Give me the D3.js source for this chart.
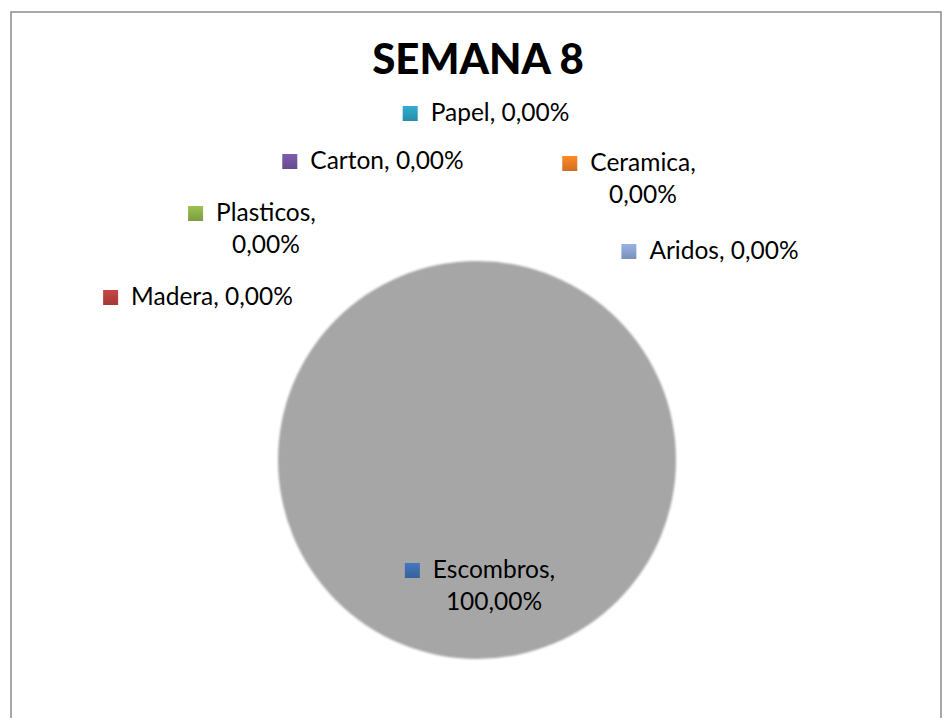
<!DOCTYPE html>
<html>
<head>
<meta charset="utf-8">
<script src="https://cdn.jsdelivr.net/npm/d3@7"></script>
<style>
  html, body { margin: 0; padding: 0; background: #fff; }
  svg { display: block; }
</style>
</head>
<body>
<svg id="chart" width="946" height="718"></svg>
<script>
// data
var categories = ['Escombros', 'Madera', 'Plasticos', 'Carton', 'Papel', 'Ceramica', 'Aridos'];
var values = [100, 0, 0, 0, 0, 0, 0];
var swatches = ['#3d6eb0', '#b8403c', '#8db14a', '#7454a0', '#2d9fbf', '#ec7d23', '#8aa4d2'];
var title = 'SEMANA 8';

// label layout (offset of the text centre / first baseline from pie centre)
var labelOffset = {
  Escombros: [17, 118],
  Madera: [-265, -155],
  Plasticos: [-211, -239],
  Carton: [-90, -291],
  Papel: [23, -339],
  Ceramica: [166, -289],
  Aridos: [247, -201]
};
var wrapped = ['Escombros', 'Plasticos', 'Ceramica'];

var W = 946, H = 718;
var cx = 477, cy = 460, radius = 199;
var font = 'Lato, "Open Sans", sans-serif';

var svg = d3.select('#chart');

var es = d3.formatLocale({decimal: ',', thousands: '.', grouping: [3], currency: ['', '€']});
var pct = es.format('.2%');
var total = d3.sum(values);

// frame
svg.append('rect')
  .attr('x', 11).attr('y', 12)
  .attr('width', 930).attr('height', H + 20)
  .attr('fill', '#fff')
  .attr('stroke', '#8a8a8a')
  .attr('stroke-width', 1.5);

// soft edge for the pie
var defs = svg.append('defs');
defs.append('filter').attr('id', 'soft')
  .attr('x', '-10%').attr('y', '-10%').attr('width', '120%').attr('height', '120%')
  .append('feGaussianBlur').attr('stdDeviation', 1.3);

categories.forEach(function(c, i) {
  var g = defs.append('linearGradient').attr('id', 'sw' + i)
    .attr('x1', 0).attr('y1', 0).attr('x2', 0).attr('y2', 1);
  g.append('stop').attr('offset', '0%').attr('stop-color', d3.color(swatches[i]).brighter(0.25));
  g.append('stop').attr('offset', '100%').attr('stop-color', d3.color(swatches[i]).darker(0.35));
});

svg.append('text')
  .attr('x', 478).attr('y', 74)
  .attr('text-anchor', 'middle')
  .attr('font-family', font)
  .attr('font-weight', 900)
  .attr('font-size', 42)
  .attr('fill', '#000')
  .text(title);

// pie
var slices = d3.pie().sort(null)(values);
var arc = d3.arc().innerRadius(0).outerRadius(radius);

svg.append('g')
  .attr('transform', 'translate(' + cx + ',' + cy + ')')
  .selectAll('path')
  .data(slices.filter(function(d) { return d.value > 0; }))
  .join('path')
    .attr('d', arc)
    .attr('fill', '#a6a6a6')
    .attr('filter', 'url(#soft)');

// data labels
var labels = svg.append('g')
  .attr('font-family', font)
  .attr('font-size', 24.5)
  .attr('fill', '#000');

categories.forEach(function(c, i) {
  var off = labelOffset[c];
  var x = cx + off[0], y = cy + off[1];
  var lines = wrapped.indexOf(c) >= 0
    ? [c + ',', pct(values[i] / total)]
    : [c + ', ' + pct(values[i] / total)];

  var t = labels.append('text')
    .attr('text-anchor', 'middle');
  lines.forEach(function(s, k) {
    t.append('tspan').attr('x', x).attr('y', y + k * 32).text(s);
  });

  var w = t.select('tspan').node().getComputedTextLength();
  labels.append('rect')
    .attr('x', x - w / 2 - 28).attr('y', y - 15)
    .attr('width', 15).attr('height', 15)
    .attr('fill', 'url(#sw' + i + ')');
});
</script>
</body>
</html>
